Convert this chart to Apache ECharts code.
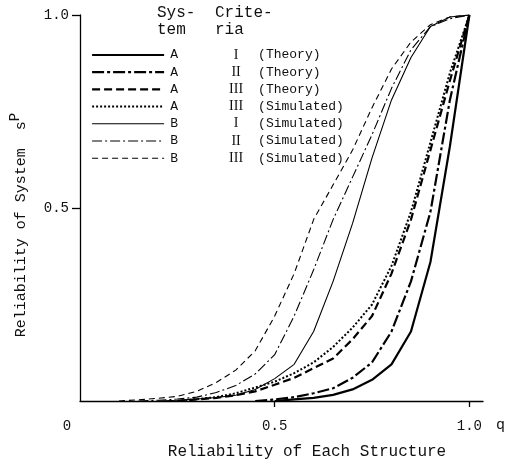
<!DOCTYPE html>
<html>
<head>
<meta charset="utf-8">
<script src="https://cdn.jsdelivr.net/npm/echarts@6/dist/echarts.min.js"></script>
<style>
html,body{margin:0;padding:0;background:#fff;}
#chart{width:514px;height:465px;}
</style>
</head>
<body>
<div id="chart"></div>
<script>
// q grid (reliability of each structure)
const qGrid = [0.10,0.15,0.20,0.25,0.30,0.35,0.40,0.45,0.50,0.55,0.60,0.65,0.70,0.75,0.80,0.85,0.90,0.95,1.00];

// system reliability values
const aI_theory   = [null,null,null,null,null,null,null,null,0,0.004,0.008,0.016,0.03,0.055,0.095,0.18,0.36,0.66,1.0];
const aII_theory  = [null,null,null,null,null,null,null,0,0.004,0.01,0.02,0.033,0.06,0.10,0.18,0.31,0.49,0.78,1.0];
const aIII_theory = [null,null,null,0,0.004,0.008,0.015,0.025,0.042,0.06,0.085,0.11,0.16,0.22,0.33,0.47,0.65,0.83,1.0];
const aIII_sim    = [null,null,null,0,0.005,0.01,0.02,0.035,0.05,0.072,0.10,0.14,0.19,0.25,0.35,0.49,0.67,0.85,1.0];
const bI_sim      = [null,null,0,0.002,0.005,0.009,0.015,0.03,0.058,0.095,0.18,0.31,0.46,0.63,0.78,0.89,0.97,0.995,1.0];
const bII_sim     = [null,0,0.002,0.005,0.01,0.022,0.04,0.07,0.12,0.22,0.34,0.47,0.58,0.69,0.81,0.91,0.97,0.99,1.0];
const bIII_sim    = [0,0.003,0.007,0.012,0.025,0.048,0.08,0.13,0.22,0.33,0.47,0.56,0.65,0.76,0.86,0.93,0.975,0.995,1.0];

// legend texts
const systems  = ['A','A','A','A','B','B','B'];
const criteria = ['I','II','III','III','I','II','III'];
const methods  = ['(Theory)','(Theory)','(Theory)','(Simulated)','(Simulated)','(Simulated)','(Simulated)'];

// tick labels
const xTickValues = [0, 0.5, 1.0];
const xTickLabels = ['0', '0.5', '1.0'];
const yTickValues = [0, 0.5, 1.0];
const yTickLabels = ['', '0.5', '1.0'];

const seriesValues = [aI_theory, aII_theory, aIII_theory, aIII_sim, bI_sim, bII_sim, bIII_sim];
const styles = [
  {width:2.2, type:'solid'},
  {width:2.2, type:[12,3,3,3]},
  {width:2.2, type:[8,4]},
  {width:2.0, type:[2,2]},
  {width:1.1, type:'solid'},
  {width:1.1, type:[10,3,2,3]},
  {width:1.1, type:[6,4]}
];
const names = seriesValues.map((_, i) => 'S' + i);

const FONT = '"Liberation Mono", "DejaVu Sans Mono", monospace';
const SERIF = '"Liberation Serif", "DejaVu Serif", serif';

const series = seriesValues.map((vals, i) => ({
  name: names[i],
  type: 'line',
  data: vals.map((v, j) => [qGrid[j], v]),
  showSymbol: false,
  symbol: 'none',
  smooth: false,
  connectNulls: false,
  silent: true,
  lineStyle: {color: '#000', width: styles[i].width, type: styles[i].type},
  itemStyle: {color: '#000'}
}));

const chart = echarts.init(document.getElementById('chart'), null, {renderer: 'canvas'});
chart.setOption({
  animation: false,
  backgroundColor: '#fff',
  textStyle: {fontFamily: FONT, color: '#111'},
  grid: {left: 78, right: 31, top: 15, bottom: 60, containLabel: false},
  xAxis: {
    type: 'value', min: 0, max: 1.035, interval: 0.5,
    splitLine: {show: false},
    axisLine: {lineStyle: {color: '#000', width: 1.3}},
    axisTick: {show: true, customValues: [0.5, 1.0], length: 6, inside: false, lineStyle: {color: '#000', width: 1.3}},
    axisLabel: {
      customValues: xTickValues,
      margin: 18,
      fontFamily: FONT, fontSize: 14, color: '#111',
      formatter: v => {
        const k = xTickValues.findIndex(t => Math.abs(t - v) < 1e-6);
        const s = k >= 0 ? xTickLabels[k] : '';
        return v === 0 ? '{z|' + s + '}' : s;
      },
      rich: {z: {fontFamily: FONT, fontSize: 14, color: '#111', padding: [0, 26, 0, 0]}}
    },
    name: 'Reliability of Each Structure',
    nameLocation: 'middle',
    nameGap: 43,
    nameTextStyle: {fontFamily: FONT, fontSize: 16, color: '#111', padding: [0, 0, 0, 51]}
  },
  yAxis: {
    type: 'value', min: 0, max: 1.0, interval: 0.5,
    splitLine: {show: false},
    axisLine: {lineStyle: {color: '#000', width: 1.3}},
    axisTick: {show: true, customValues: [0.5, 1.0], length: 8, lineStyle: {color: '#000', width: 1.3}},
    axisLabel: {
      margin: 11, fontFamily: FONT, fontSize: 14, color: '#111',
      formatter: v => {
        const k = yTickValues.findIndex(t => Math.abs(t - v) < 1e-6);
        return k >= 0 ? yTickLabels[k] : '';
      }
    },
    name: 'Reliability of System  {s|s}{p|P}',
    nameLocation: 'middle',
    nameRotate: 90,
    nameGap: 46,
    nameTextStyle: {
      fontFamily: FONT, fontSize: 15, color: '#111', padding: [0, 34, 0, 0],
      rich: {
        s: {fontFamily: FONT, fontSize: 15, color: '#111'},
        p: {fontFamily: FONT, fontSize: 14, color: '#111', padding: [0, 0, 12, 0]}
      }
    }
  },
  legend: {
    show: true,
    orient: 'vertical',
    left: 91, top: 48,
    padding: 0,
    itemWidth: 72, itemHeight: 14, itemGap: 3.2,
    selectedMode: false,
    data: names.map((n, i) => ({name: n, lineStyle: {width: styles[i].width, type: styles[i].type, color: '#000'}})),
    itemStyle: {opacity: 0},
    formatter: name => {
      const i = names.indexOf(name);
      return '{a|' + systems[i] + '}{g| }{b|' + criteria[i] + '}{h| }{c|' + methods[i] + '}';
    },
    textStyle: {
      fontFamily: FONT, fontSize: 13, color: '#111',
      rich: {
        a: {fontFamily: FONT, fontSize: 13, color: '#111', width: 10, align: 'center'},
        g: {fontFamily: FONT, fontSize: 13, width: 47},
        b: {fontFamily: SERIF, fontSize: 14, color: '#111', width: 20, align: 'center'},
        h: {fontFamily: FONT, fontSize: 13, width: 12},
        c: {fontFamily: FONT, fontSize: 13, color: '#111'}
      }
    }
  },
  graphic: [
    {type: 'text', left: 157, top: 5, style: {text: 'Sys-', font: '16px ' + FONT, fill: '#111'}},
    {type: 'text', left: 157, top: 22, style: {text: 'tem', font: '16px ' + FONT, fill: '#111'}},
    {type: 'text', left: 215, top: 5, style: {text: 'Crite-', font: '16px ' + FONT, fill: '#111'}},
    {type: 'text', left: 215, top: 22, style: {text: 'ria', font: '16px ' + FONT, fill: '#111'}},
    {type: 'text', left: 496, top: 418, style: {text: 'q', font: '15px ' + FONT, fill: '#111'}}
  ],
  series: series
});
</script>
</body>
</html>
